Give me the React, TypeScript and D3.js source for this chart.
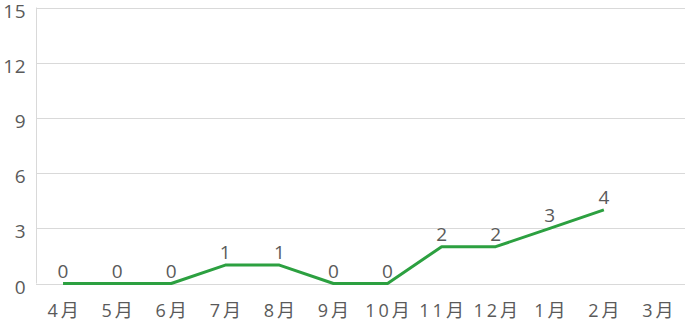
import React from "react";
import * as d3 from "d3";

const categories = ["4月", "5月", "6月", "7月", "8月", "9月", "10月", "11月", "12月", "1月", "2月", "3月"];
const values: (number | null)[] = [0, 0, 0, 1, 1, 0, 0, 2, 2, 3, 4, null];
const yTicks = [0, 3, 6, 9, 12, 15];

const W = 685, H = 323;
const margin = { left: 36, right: 0, top: 7.5, bottom: 39.5 };
const font = "'Open Sans', 'Noto Sans CJK JP', sans-serif";
const textColor = "#5a5a5a";

export default function App() {
  const x = d3.scaleBand<string>().domain(categories).range([margin.left, W - margin.right]);
  const y = d3.scaleLinear().domain([0, 15]).range([H - margin.bottom, margin.top]);
  const cx = (c: string) => (x(c) as number) + x.bandwidth() / 2;
  const pts = categories.map((c, i) => ({ c, v: values[i] })).filter((d) => d.v !== null) as { c: string; v: number }[];
  const line = d3.line<{ c: string; v: number }>().x((d) => cx(d.c)).y((d) => y(d.v));
  return (
    <svg width={W} height={H} style={{ position: "absolute", left: 0, top: 0 }}>
      {yTicks.map((t) => (
        <g key={t}>
          <line x1={margin.left} x2={W - margin.right} y1={Math.round(y(t)) + 0.5} y2={Math.round(y(t)) + 0.5} stroke="#d9d9d9" strokeWidth={1} />
          <text x={26} y={y(t) + 10} textAnchor="end" fontFamily={font} fontSize={19} fontWeight={400} fill={textColor} letterSpacing={0.5}>{t}</text>
        </g>
      ))}
      <line x1={margin.left + 0.5} x2={margin.left + 0.5} y1={margin.top} y2={H - margin.bottom} stroke="#d9d9d9" strokeWidth={1} />
      {categories.map((c) => (
        <text key={c} x={cx(c) + 1.5} y={317} textAnchor="middle" fontFamily={font} fontSize={18} fontWeight={400} fill={textColor} letterSpacing={3}>{c}</text>
      ))}
      <path d={line(pts) || ""} fill="none" stroke="#2ca040" strokeWidth={3} strokeLinejoin="round" />
      {pts.map((d) => (
        <text key={d.c} x={cx(d.c)} y={y(d.v) - 6} textAnchor="middle" fontFamily={font} fontSize={19} fontWeight={400} fill={textColor}>{d.v}</text>
      ))}
    </svg>
  );
}
